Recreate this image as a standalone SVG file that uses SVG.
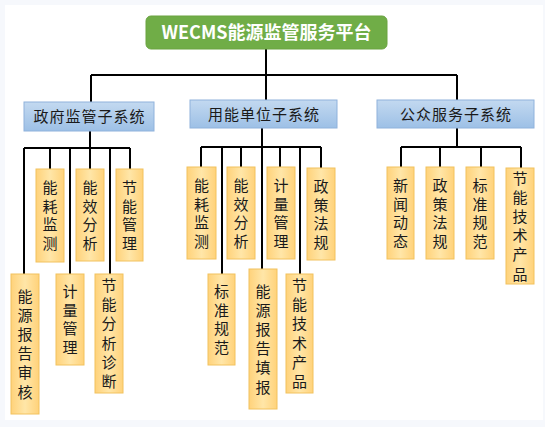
<svg xmlns="http://www.w3.org/2000/svg" width="545" height="427" viewBox="0 0 545 427">
<defs>
<linearGradient id="gy" x1="0" y1="0" x2="1" y2="0">
<stop offset="0" stop-color="#FFD27A"/>
<stop offset="0.5" stop-color="#FFE6A8"/>
<stop offset="1" stop-color="#FFD27A"/>
</linearGradient>
<linearGradient id="gb" x1="0" y1="0" x2="0" y2="1">
<stop offset="0" stop-color="#C3D9F0"/>
<stop offset="1" stop-color="#9DC0E6"/>
</linearGradient>
<style>
.leaf{fill:url(#gy);stroke:#F2C25E;stroke-width:1}
.sub{fill:url(#gb);stroke:#8FB2DC;stroke-width:1}
.lt{font-family:"Noto Sans CJK SC","Noto Sans",sans-serif;font-size:15px;fill:#1a1a1a;text-anchor:middle;writing-mode:vertical-rl;letter-spacing:3.5px}
.lt6{letter-spacing:4.2px}
.st{font-family:"Noto Sans CJK SC","Noto Sans",sans-serif;font-size:15px;fill:#1a1a1a;text-anchor:middle;letter-spacing:1px}
.tt{font-family:"Noto Sans CJK SC","Noto Sans",sans-serif;font-size:18px;font-weight:bold;fill:#ffffff;text-anchor:middle}
.ln{stroke:#000;stroke-width:2;fill:none}
</style>
</defs>
<rect x="0" y="0" width="545" height="427" fill="#F6F8FC"/>
<rect x="5" y="5" width="538" height="415" fill="#FFFFFF"/>

<g id="connectors">
<path class="ln" d="M266 49V100M91 75H457M91 75V102M457 75V100"/>
<path class="ln" d="M90 131V148M24 148H130M24 148V274M50 148V169M70 148V274M90 148V169M110 148V274M130 148V169"/>
<path class="ln" d="M262 128V269M201 147H321M201 147V167M222 147V274M241 147V167M280 147V167M300 147V274M321 147V168"/>
<path class="ln" d="M457 128V147M401 147H521M401 147V167M440 147V167M481 147V167M521 147V168"/>
</g>

<g id="root">
<rect x="146" y="16" width="241" height="33" rx="5" fill="#70AD47" stroke="#6AA341"/>
<text class="tt" x="266.5" y="39">WECMS能源监管服务平台</text>
</g>

<g id="sub1"><rect class="sub" x="24" y="102" width="130" height="29"/><text class="st" x="89.5" y="122">政府监管子系统</text></g>
<g id="sub2"><rect class="sub" x="190" y="100" width="147" height="28"/><text class="st" x="264" y="120">用能单位子系统</text></g>
<g id="sub3"><rect class="sub" x="377" y="100" width="157" height="28"/><text class="st" x="456" y="120">公众服务子系统</text></g>

<g id="g1-nhjc"><rect class="leaf" x="36" y="169" width="28" height="93"/><text class="lt" x="50" y="217">能耗监测</text></g>
<g id="g1-nxfx"><rect class="leaf" x="76" y="169" width="28" height="92"/><text class="lt" x="90" y="217">能效分析</text></g>
<g id="g1-jngl"><rect class="leaf" x="116" y="169" width="27" height="92"/><text class="lt" x="129.5" y="217">节能管理</text></g>
<g id="g1-nybgsh"><rect class="leaf" x="11" y="274" width="28" height="140"/><text class="lt lt6" x="25" y="346">能源报告审核</text></g>
<g id="g1-jlgl"><rect class="leaf" x="56" y="274" width="28" height="91"/><text class="lt" x="70" y="321">计量管理</text></g>
<g id="g1-jnfxzd"><rect class="leaf" x="95" y="274" width="28" height="119"/><text class="lt lt6" x="109" y="335.5">节能分析诊断</text></g>

<g id="g2-nhjc"><rect class="leaf" x="187" y="167" width="29" height="92"/><text class="lt" x="201.5" y="215">能耗监测</text></g>
<g id="g2-nxfx"><rect class="leaf" x="227" y="167" width="28" height="92"/><text class="lt" x="241" y="215">能效分析</text></g>
<g id="g2-jlgl"><rect class="leaf" x="267" y="167" width="28" height="92"/><text class="lt" x="281" y="215">计量管理</text></g>
<g id="g2-zcfg"><rect class="leaf" x="307" y="168" width="28" height="92"/><text class="lt" x="321" y="216">政策法规</text></g>
<g id="g2-bzgf"><rect class="leaf" x="208" y="274" width="27" height="91"/><text class="lt" x="221.5" y="321">标准规范</text></g>
<g id="g2-nybgtb"><rect class="leaf" x="249" y="269" width="28" height="140"/><text class="lt lt6" x="263" y="341">能源报告填报</text></g>
<g id="g2-jnjscp"><rect class="leaf" x="286" y="274" width="27" height="119"/><text class="lt lt6" x="299.5" y="335.5">节能技术产品</text></g>

<g id="g3-xwdt"><rect class="leaf" x="387" y="167" width="27" height="92"/><text class="lt" x="400.5" y="215">新闻动态</text></g>
<g id="g3-zcfg"><rect class="leaf" x="426" y="167" width="28" height="92"/><text class="lt" x="440" y="215">政策法规</text></g>
<g id="g3-bzgf"><rect class="leaf" x="466" y="167" width="28" height="92"/><text class="lt" x="480" y="215">标准规范</text></g>
<g id="g3-jnjscp"><rect class="leaf" x="506" y="168" width="28" height="116"/><text class="lt lt6" x="520" y="228">节能技术产品</text></g>
</svg>
